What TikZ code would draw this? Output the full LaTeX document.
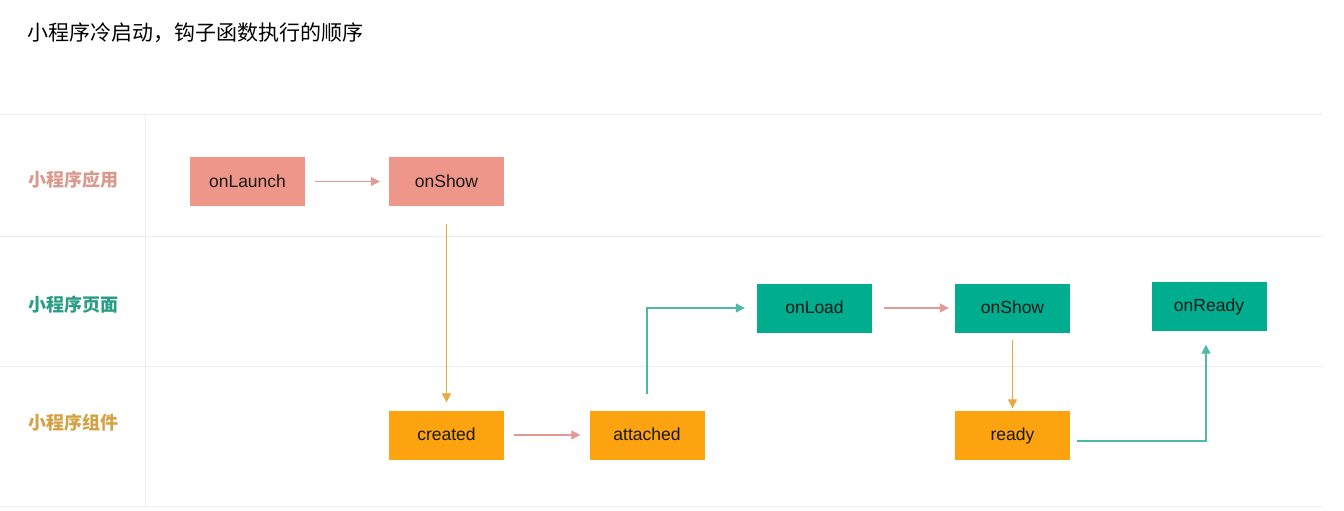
\documentclass[tikz,border=0pt]{standalone}
\usepackage{fontspec}
\setmainfont{Liberation Sans}
\newfontfamily\cjk{Noto Sans CJK SC}
\usetikzlibrary{arrows.meta,calc}
\definecolor{appfill}{HTML}{EE968A}
\definecolor{pagefill}{HTML}{00AD8E}
\definecolor{compfill}{HTML}{FCA30F}
\definecolor{applab}{HTML}{D99A8E}
\definecolor{pagelab}{HTML}{2A9D85}
\definecolor{complab}{HTML}{D4A245}
\definecolor{pinkline}{HTML}{E39A94}
\definecolor{goldline}{HTML}{E6A93A}
\definecolor{tealline}{HTML}{4FB8A6}
\definecolor{gridc}{HTML}{EDEDED}
\tikzset{
  box/.style={minimum width=115pt,minimum height=49pt,inner sep=0pt,
    text height=12.5pt,text depth=1.5pt,
    font=\fontsize{17.5pt}{20pt}\selectfont,text=black!90},
  appbox/.style={box,fill=appfill},
  pagebox/.style={box,fill=pagefill},
  compbox/.style={box,fill=compfill},
  conn/.style={line width=1.2pt,-{Triangle[length=9pt,width=9pt]}},
  rowlab/.style={font=\cjk\bfseries\fontsize{18pt}{20pt}\selectfont,anchor=west},
  grid/.style={draw=gridc,line width=0.8pt}
}
\begin{document}
\begin{tikzpicture}[x=1pt,y=-1pt]
\useasboundingbox[fill=white] (0,0) rectangle (1344,511);
% grid
\draw[grid] (0,114) -- (1322,114);
\draw[grid] (0,236) -- (1322,236);
\draw[grid] (0,366) -- (1322,366);
\draw[grid] (0,506) -- (1322,506);
\draw[grid] (145,114) -- (145,506);
% title
\node[anchor=west,font=\cjk\fontsize{21pt}{24pt}\selectfont] (title) at (24,33) {小程序冷启动，钩子函数执行的顺序};
% row labels
\node[rowlab,text=applab] (lapp) at (25,180) {小程序应用};
\node[rowlab,text=pagelab] (lpage) at (25,305) {小程序页面};
\node[rowlab,text=complab] (lcomp) at (25,423) {小程序组件};
% boxes
\node[appbox] (onLaunch) at (247.5,181.5) {onLaunch};
\node[appbox] (onShowA) at (446.5,181.5) {onShow};
\node[pagebox] (onLoad) at (814.5,308) {onLoad};
\node[pagebox] (onShowP) at (1012.5,308) {onShow};
\node[pagebox] (onReady) at (1209,306) {onReady};
\node[compbox] (created) at (446.5,435) {created};
\node[compbox] (attached) at (647,435) {attached};
\node[compbox] (ready) at (1012.5,435) {ready};
% connectors
\draw[conn,pinkline,shorten <=10pt,shorten >=9pt] (onLaunch) -- (onShowA);
\draw[conn,goldline,shorten <=18pt,shorten >=8pt] (onShowA) -- (created);
\draw[conn,pinkline,shorten <=10pt,shorten >=9pt] (created) -- (attached);
\draw[conn,tealline,shorten <=16pt,shorten >=12pt] (attached.north) |- (onLoad.west);
\draw[conn,pinkline,shorten <=12pt,shorten >=6pt] (onLoad) -- (onShowP);
\draw[conn,goldline,shorten <=7pt,shorten >=2pt] (onShowP) -- (ready);
\coordinate (rstart) at ($(ready.east)+(7,6)$);
\coordinate (rend) at ($(onReady.south)+(-3,14)$);
\draw[conn,tealline] (rstart) -| (rend);
\end{tikzpicture}
\end{document}
